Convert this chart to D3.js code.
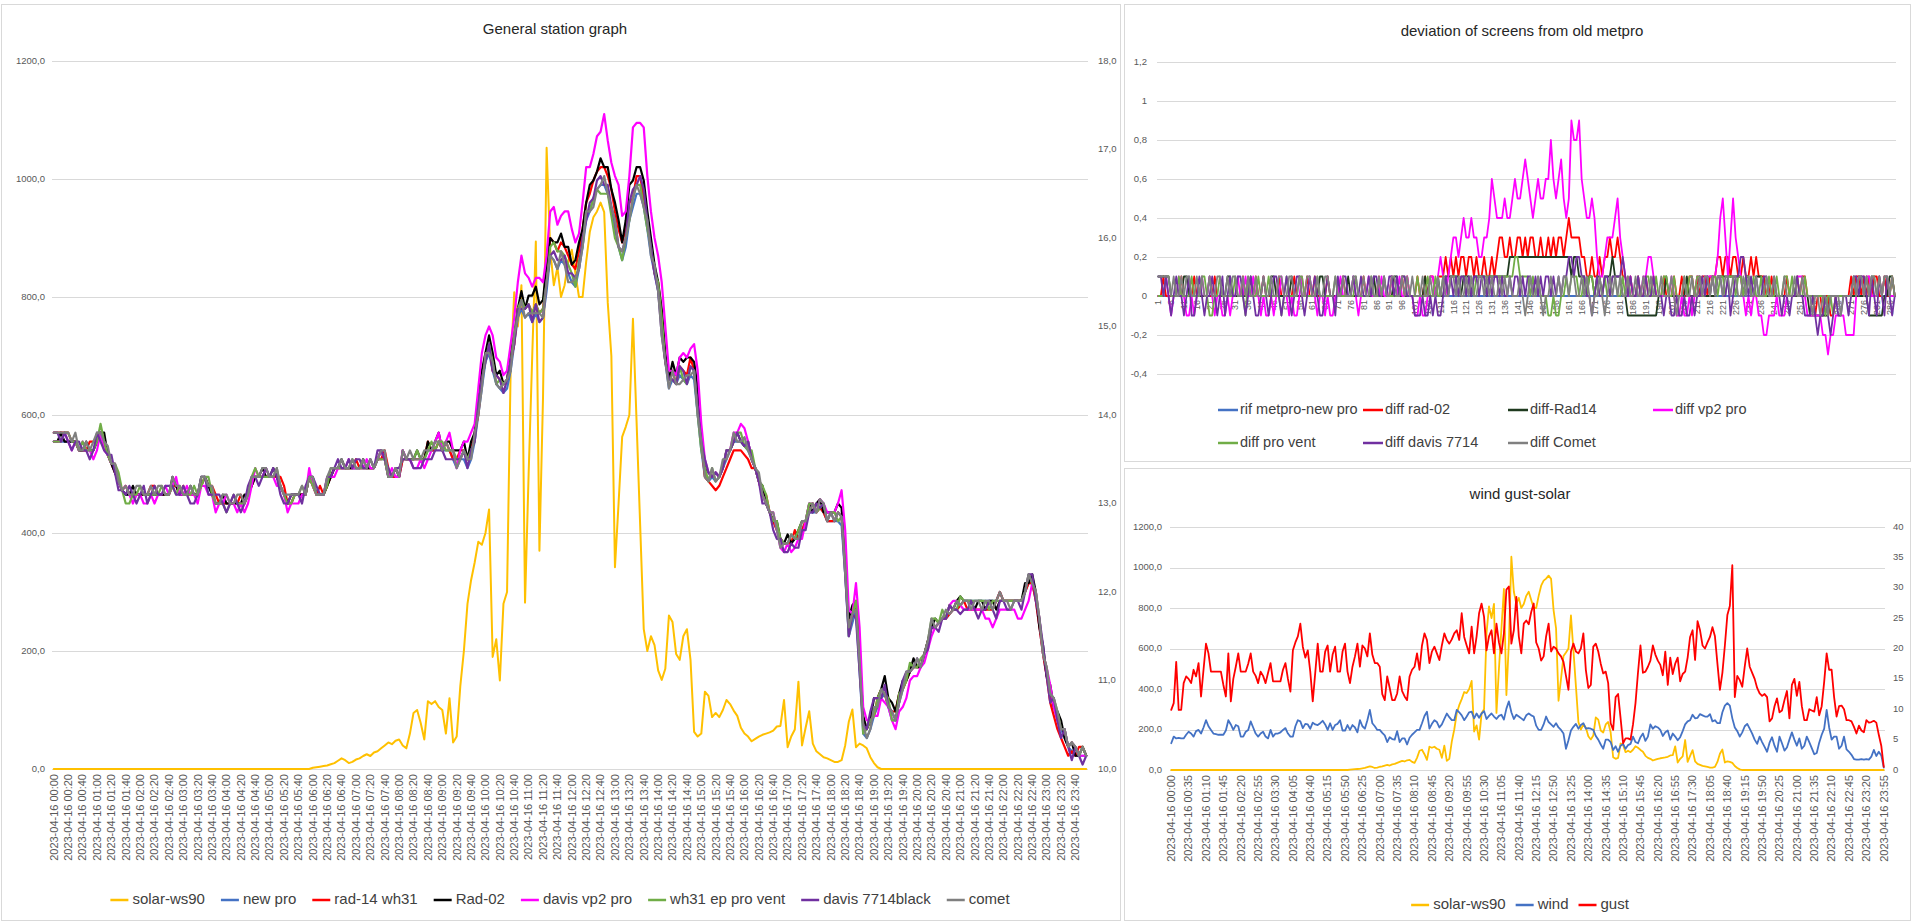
<!DOCTYPE html>
<html><head><meta charset="utf-8">
<script src="https://cdn.jsdelivr.net/npm/d3@7"></script>
<style>
html,body{margin:0;padding:0;background:#fff;}
svg{display:block;font-family:"Liberation Sans",Arial,sans-serif;}
</style></head><body>
<svg id="c" width="1912" height="923"></svg>
<script>
// ---------------- DATA (288 five-minute readings, 2023-04-16) ----------------
const tempReference = [
13.7,13.7,13.7,13.7,13.7,13.7,13.7,13.6,13.6,13.6,13.6,13.6,
13.7,13.8,13.7,13.55,13.45,13.35,13.25,13.15,13.1,13.1,13.1,13.1,
13.1,13.1,13.1,13.1,13.1,13.1,13.1,13.1,13.1,13.2,13.2,13.1,
13.1,13.1,13.1,13.1,13.1,13.2,13.3,13.2,13.1,13.0,13.0,13.0,
13.0,13.0,13.0,13.0,13.0,13.0,13.1,13.2,13.3,13.3,13.3,13.3,
13.3,13.3,13.3,13.2,13.1,13.0,13.0,13.1,13.1,13.1,13.1,13.3,
13.2,13.1,13.1,13.1,13.2,13.3,13.4,13.4,13.4,13.4,13.4,13.4,
13.4,13.4,13.4,13.4,13.4,13.4,13.5,13.5,13.5,13.3,13.3,13.3,
13.3,13.5,13.5,13.5,13.5,13.5,13.5,13.5,13.6,13.6,13.6,13.7,
13.6,13.6,13.6,13.5,13.4,13.5,13.5,13.4,13.5,13.7,14.0,14.3,
14.6,14.7,14.5,14.35,14.3,14.25,14.3,14.5,14.8,15.1,15.2,15.1,
15.15,15.05,15.15,15.05,15.1,15.4,15.8,15.75,15.65,15.75,15.7,15.6,
15.5,15.45,15.65,15.9,16.2,16.3,16.45,16.55,16.6,16.6,16.5,16.35,
16.1,15.9,15.75,15.9,16.2,16.35,16.5,16.5,16.35,16.1,15.8,15.6,
15.4,15.0,14.6,14.3,14.4,14.35,14.45,14.4,14.35,14.45,14.4,14.0,
13.6,13.3,13.25,13.3,13.25,13.3,13.4,13.5,13.6,13.7,13.7,13.7,
13.65,13.6,13.5,13.4,13.25,13.1,13.0,12.9,12.8,12.7,12.6,12.55,
12.55,12.55,12.6,12.6,12.7,12.8,12.9,12.9,12.9,12.95,12.9,12.8,
12.8,12.8,12.8,12.75,12.2,11.5,11.65,11.8,11.1,10.4,10.35,10.45,
10.6,10.7,10.8,10.85,10.7,10.55,10.55,10.75,10.9,11.0,11.1,11.15,
11.15,11.15,11.3,11.45,11.6,11.6,11.65,11.7,11.7,11.75,11.8,11.8,
11.85,11.9,11.9,11.9,11.9,11.9,11.9,11.9,11.9,11.9,11.9,12.0,
11.9,11.9,11.9,11.9,11.9,11.9,12.0,12.1,12.1,11.9,11.6,11.3,
11.05,10.85,10.7,10.55,10.45,10.35,10.25,10.2,10.15,10.15,10.15,10.15];

const solarWs90 = [
0,0,0,0,0,0,0,0,0,0,0,0, 0,0,0,0,0,0,0,0,0,0,0,0,
0,0,0,0,0,0,0,0,0,0,0,0, 0,0,0,0,0,0,0,0,0,0,0,0,
0,0,0,0,0,0,0,0,0,0,0,0, 0,0,0,0,0,0,0,0,0,0,0,0,
2,3,4,5,6,8,10,14,18,15,10,12,
16,18,22,25,22,28,30,35,40,45,42,48,
50,40,35,60,95,100,78,50,115,110,115,105,
100,60,120,45,55,140,200,280,320,350,385,380,
400,440,190,220,150,280,300,677,808,750,820,282,
500,700,894,370,630,1053,880,820,850,800,820,860,
880,840,800,800,860,910,935,945,960,944,790,700,
342,450,563,580,600,763,590,414,237,200,225,210,
167,151,170,260,249,195,185,225,237,185,63,55,
60,131,124,88,95,88,100,117,110,99,90,70,
60,55,47,51,55,58,60,62,65,72,73,117,
37,55,67,148,40,70,98,43,30,25,20,18,
15,12,12,15,40,80,101,37,43,40,35,20,
10,3,0,0,0,0,0,0,0,0,0,0,
0,0,0,0,0,0,0,0,0,0,0,0, 0,0,0,0,0,0,0,0,0,0,0,0,
0,0,0,0,0,0,0,0,0,0,0,0, 0,0,0,0,0,0,0,0,0,0,0,0];

const windSpeed = [
4.4,5.5,5.2,5.3,5.2,5.2,5.8,6.3,6.0,5.5,6.4,6.6,
6.0,7.0,8.2,7.2,6.6,6.0,5.9,5.8,5.8,5.8,6.5,8.2,
7.5,6.6,7.4,7.2,5.5,5.5,6.3,6.6,8.0,7.0,6.0,5.5,
6.0,6.3,5.5,5.2,6.6,5.5,6.0,6.0,6.2,6.6,6.9,6.0,
5.5,5.5,7.2,8.2,8.0,6.9,7.6,7.5,6.8,7.8,7.5,7.4,
7.7,8.1,7.5,6.6,7.7,6.6,7.4,7.6,8.2,6.5,6.5,7.4,
6.6,7.4,7.0,6.2,8.2,7.2,6.8,8.2,9.9,7.7,7.2,6.6,
6.6,6.1,5.7,4.6,5.4,5.1,5.0,6.4,4.6,5.2,5.2,4.2,
5.3,5.8,6.2,6.6,6.6,7.7,8.9,9.6,6.8,7.6,8.2,7.9,
7.0,7.5,8.4,9.3,8.7,8.2,8.2,9.9,9.5,9.0,8.2,8.8,
9.5,9.6,8.5,9.3,8.6,9.3,9.7,8.4,8.9,9.3,8.8,8.4,
8.9,9.1,8.3,10.1,11.3,9.5,8.4,9.1,8.8,8.5,8.2,9.0,
9.3,9.0,8.8,7.3,6.6,6.6,7.5,8.8,7.9,7.5,7.1,7.7,
7.0,6.6,6.0,3.5,4.9,6.5,7.1,7.6,6.8,7.4,7.7,6.8,
6.9,6.8,6.6,5.6,5.0,4.2,3.5,5.0,5.0,4.6,3.3,3.9,
3.0,4.0,4.3,3.5,4.1,4.3,5.5,4.6,4.4,5.4,6.0,4.8,
5.5,7.5,6.8,7.2,7.0,6.6,5.6,6.2,6.5,5.0,6.0,5.5,
4.9,5.4,6.4,7.5,8.0,8.2,9.1,8.5,8.6,9.2,9.0,8.8,
8.8,9.2,8.0,8.2,7.7,7.7,9.5,10.6,11.0,10.6,8.5,7.0,
6.4,5.5,6.2,7.2,7.6,6.8,6.0,5.0,4.3,5.5,4.6,3.8,
3.0,4.5,5.4,4.0,3.0,5.5,4.4,3.2,3.7,5.0,6.2,5.0,
4.0,5.2,3.5,4.0,5.5,4.6,3.6,2.6,2.8,4.5,5.8,6.8,
9.9,7.0,5.0,5.5,5.5,3.5,4.0,5.5,3.4,3.0,2.5,1.8,
1.7,1.7,1.8,1.7,1.8,1.7,2.2,3.3,2.3,3.0,2.4,0.4];

const windGust = [
9.9,11.0,17.8,9.9,9.9,14.3,15.4,15.0,14.3,16.5,15.4,17.6,
12.1,16.5,20.8,19.2,16.2,16.2,16.2,16.2,16.2,14.0,12.1,19.2,
11.3,15.0,17.0,19.2,16.2,16.2,16.2,17.5,19.2,16.2,15.5,14.3,
16.2,15.5,14.3,16.0,17.6,14.6,14.6,14.6,14.6,16.5,17.6,15.0,
12.9,19.7,21.0,22.0,24.1,20.3,18.5,19.7,16.2,11.3,16.0,20.8,
16.2,16.2,19.5,20.5,16.2,19.0,20.3,16.2,16.2,19.5,20.8,16.2,
14.3,17.0,18.7,20.8,17.0,20.5,20.0,18.7,22.5,19.0,17.6,17.6,
17.0,12.5,11.5,15.4,13.5,11.5,11.5,12.6,15.4,13.0,12.1,11.5,
15.4,16.5,17.0,19.2,16.5,20.5,22.5,21.4,17.6,19.5,20.3,19.2,
18.1,20.5,22.5,21.4,20.8,21.5,22.5,23.0,21.4,25.8,21.9,20.5,
19.2,23.6,19.2,22.0,25.8,27.4,25.2,19.7,22.0,23.0,19.2,24.1,
21.0,19.2,22.5,29.7,30.2,20.8,23.0,28.5,22.0,19.2,24.1,24.6,
24.0,26.0,27.4,21.0,20.0,18.0,18.7,22.0,24.1,19.5,20.3,20.0,
19.2,18.7,17.8,15.5,13.2,19.5,20.8,19.5,19.2,20.0,22.5,16.5,
13.5,14.0,20.3,20.8,19.5,17.5,15.9,16.2,14.3,7.7,6.6,12.0,
12.5,8.5,4.4,5.2,5.2,5.0,7.5,11.0,16.0,20.5,16.0,16.2,
17.0,18.0,20.5,19.0,18.0,17.3,15.6,19.5,14.0,18.5,15.8,17.5,
18.5,14.6,15.8,16.2,18.5,21.9,23.0,18.1,24.5,23.0,20.5,20.0,
21.0,21.9,23.5,22.0,17.5,13.2,16.0,20.5,25.5,27.0,33.7,12.0,
15.5,14.8,13.7,17.0,20.0,17.0,16.0,15.0,13.5,12.6,12.2,12.5,
12.0,8.0,8.5,10.5,11.8,9.5,9.8,11.5,13.0,8.5,14.0,15.0,
12.2,14.5,10.5,8.2,8.2,10.0,9.8,9.6,12.0,9.0,10.5,14.5,
19.2,16.5,16.5,12.0,8.8,10.5,10.6,10.0,8.2,8.2,8.0,7.1,
6.0,7.3,6.5,6.2,8.2,7.8,7.9,8.1,7.8,5.8,4.0,0.5];

// deviations from old metpro, in tenths of a degree
const diffNewPro = [
0,0,0,0,0,0,0,0,0,0,0,0, 0,0,0,0,0,0,0,0,0,0,0,0, 0,0,0,0,0,0,0,0,0,0,0,0,
0,0,0,0,0,0,0,0,0,0,0,0, 0,0,0,0,0,0,0,0,0,0,0,0, 0,0,0,0,0,0,0,0,0,0,0,0,
0,0,0,0,0,0,0,0,0,0,0,0, 0,0,0,0,0,0,0,0,0,0,0,0, 0,0,0,0,0,0,0,0,0,0,0,0,
0,0,0,0,0,0,0,0,0,0,0,0, 0,0,0,0,0,0,0,0,0,0,0,0, 0,0,0,0,0,0,0,0,0,0,0,0,
0,0,0,0,0,0,0,0,0,0,0,0, 0,0,0,0,0,0,0,0,0,0,0,0, 0,0,0,0,0,0,0,0,0,0,0,0,
0,0,0,0,0,0,0,0,0,0,0,0, 0,0,0,0,0,0,0,0,0,0,0,0, 0,0,0,0,0,0,0,0,0,0,0,0,
0,0,0,0,0,0,0,0,0,0,0,0, 0,0,0,0,0,0,0,0,0,0,0,0, 0,0,0,0,0,0,0,0,0,0,0,0,
0,0,0,0,0,0,0,0,0,0,0,0, 0,0,0,0,0,0,0,0,0,0,0,0, 0,0,0,0,0,0,0,0,0,0,0,0];

const diffRad02 = [
0,0,1,0,0,0,0,0,0,1, 0,0,0,0,1,0,0,0,0,0, 0,0,1,0,0,0,0,0,0,0, 0,0,0,1,0,0,0,0,1,0,
0,1,0,0,0,0,0,1,0,0, 0,0,0,1,0,0,0,0,1,0, 0,1,0,0,0,0,1,0,0,0, 0,0,1,0,0,0,0,0,0,0,
1,0,0,0,0,0,1,0,0,0, 0,1,0,0,0,1,0,1,0,
0,0,1,0,0,1,0,1,1,0,1,1,1,2,1,2,1,
2,1,2,2,1,2,2,1,2,1, 1,2,1,1,2,1,2,3,3,2, 2,3,2,2,3,3,2,3,2,3, 3,2,2,3,2,2,3,2,3,2,
3,3,2,3,4,3,3,3,3,2, 2,1,1,2,1,1,2,1,2,2, 3,2,2,3,2,1,1,0,1,0,
0,1,0,0,1,0,0,1,0,0, 0,1,0,0,0,1,0,0,1,0, 0,1,1,0,1,0,1,1,0,1,
1,1,2,2,1,2,2,1,2,2,1,1,2,1,1,2,1,
2,1,1,1,0,0,1,0,0,0, 0,0,1,0,0,0,1,0,1,1, 0,0,0,-1,0,0,-1,0,0,-1, -1,0,0,0,0,0,0,1,0,1,
1,0,1,0,1,0,1,1,0,0, 1,0,0,1,0];

const diffRad14 = [
1,1,1,1,1,0,0,0,0,0, 1,1,0,0,0,0,0,0,0,0, 1,0,0,0,0,0,0,1,1,0, 0,0,0,0,0,0,1,0,0,0,
0,0,0,0,1,1,0,0,0,0, 0,0,1,0,0,0,0,0,0,0, 0,0,0,1,1,0,0,0,0,0, 0,0,0,0,1,0,0,0,0,0,
0,0,0,0,1,0,0,0,0,0, 0,0,1,1,0,0,0,0,0,
0,0,0,0,0,1,0,0,0,0,1,0,0,1,1,1,1,
1,1,0,1,1,1,0,1,1,1, 1,1,0,1,1,1,1,1,1,1, 1,
2,2,2,2,2,2,2,2,2,2, 2,2,2,2,2,2,2,2,2,2, 2,2,2,2,
1,2,2,1,1,1,0,1,1,0, 1,1,0,1,1,1,2,1,1,1, 0,0,-1,-1,-1,
-1,-1,-1,-1,-1,-1,-1,-1,-1, 0,0,0,1,0,0,0,0,0,0,0,1,0,0,0,0,1,0,0,0,0,
0,0,1,1,1,1,1,1,1,1,1,1,0,1,1,0,0,
1,1,1,0,0,0,0,0,0,0, 0,0,0,0,0,0,0,0,0,0, 0,-1,-1,-1,-1,-1,-1,-1,-1,0, 0,0,0,0,0,0,0,0,0,0,
0,0,0,0,-1,-1,-1,-1,-1,-1, 0,0,1,1,0];

const diffVp2Pro = [
0,0,0,1,0,-1,0,0,1,0, 0,-1,-1,0,-1,0,0,1,0,0, 1,0,-1,0,0,-1,-1,0,-1,0, 0,1,0,0,1,0,0,1,0,0,
-1,0,-1,-1,0,-1,0,0,1,0, 0,-1,0,-1,-1,0,1,0,0,1, 0,0,-1,0,0,-1,0,-1,-1,0, 0,1,0,0,0,0,1,0,-1,0,
0,0,1,0,0,0,0,1,0,0, 0,1,0,0,1,0,0,1,0,
0,-1,-1,0,-1,-1,0,1,1,0,1,2,1,0,1,2,3,
3,2,3,4,3,3,4,3,3,2, 2,3,3,4,6,5,4,4,4,5, 4,4,5,6,5,5,6,7,6,5, 4,5,6,5,5,6,6,8,6,5,
6,7,5,4,5,9,8,8,9,6, 5,4,4,5,4,2,1,1,2,3, 3,3,4,5,3,2,1,0,1,0,
0,1,0,1,1,2,2,1,0,0, 0,0,0,0,1,0,-1,-1,0,-1, -1,0,-1,0,1,1,0,1,1,1,
1,1,2,4,5,3,1,3,5,3,2,1,0,-1,0,-1,0,
0,-1,-1,-2,-2,-1,-1,-1,0,-1, -1,-1,0,0,0,0,1,1,1,0, -1,-1,-1,-1,-1,-1,-2,-2,-3,-2, -2,-1,-1,-1,-1,-2,-2,-2,-2,0,
1,1,0,1,1,0,0,0,1,0, 1,1,0,0,0];

const diffProVent = [
0,0,0,1,1,0,0,0,1,0, 0,0,0,1,0,0,0,1,1,0, -1,-1,0,0,1,0,0,0,0,0, 1,0,0,0,-1,1,0,0,0,1,
0,0,0,1,0,0,0,0,-1,0, 1,0,0,0,0,1,1,0,0,0, 0,0,1,0,0,0,0,0,0,1, 0,0,0,0,0,0,0,1,0,0,
0,0,0,1,0,0,0,0,1,0, 0,0,0,0,0,1,1,0,0,
0,0,1,0,0,0,1,0,0,1,0,0,1,1,0,1,1,
1,0,1,1,0,1,1,0,1,1, 1,1,1,1,1,1,1,1,1,1, 1,1,1,2,2,1,1,1,1,0, 1,0,1,0,0,0,-1,-1,0,-1,
-1,0,0,1,0,1,1,1,0,0, 1,0,1,1,0,1,0,0,1,0, 0,1,1,0,0,1,0,1,0,0,
0,1,0,0,1,1,0,0,1,0, 0,1,1,0,0,1,0,0,0,1, 0,1,1,0,1,1,0,0,1,0, 1,1,0,1,1,0,1,1,1,0,
1,1,0,1,1,0,1,0,0,1, 0,0,1,0,0,1,0,0,1,1, 0,1,0,1,0,0,1,0,0,0, 0,0,0,0,-1,0,0,-1,0,0,
0,0,0,0,0,1,0,1,1,0, 1,0,1,1,0,1,0,1,1,0,1,0];

const diffDavis7714 = [
1,1,0,1,0,-1,0,1,0,0, -1,0,1,-1,-1,0,1,0,-1,0, 0,1,0,-1,0,1,-1,0,1,0, 0,1,1,0,-1,0,1,0,-1,-1,
0,1,0,-1,0,1,1,0,-1,0, 1,0,-1,0,1,1,0,-1,0,1, 0,1,0,-1,-1,0,1,0,0,-1, 1,0,1,1,0,0,1,0,0,1,
0,0,1,0,1,1,0,0,1,0, 1,1,0,1,0,1,1,0,0,
0,-1,-1,-1,0,-1,-1,0,-1,0,-1,-1,0,1,0,1,0,
1,0,1,1,0,1,0,1,1,0, 1,1,0,1,0,1,1,0,1,0, 0,1,0,1,1,0,1,0,1,1, 0,1,0,1,0,1,1,0,1,0,
1,0,1,1,2,2,1,2,2,1, 1,0,0,-1,0,1,0,0,1,1, 0,1,1,1,1,2,1,0,1,0,
0,1,0,0,1,0,0,1,0,0, 0,-1,0,0,-1,-1,0,-1,-1,0, -1,-1,0,-1,0,0,1,0,1,0,
1,0,1,1,0,0,1,-1,0,1,1,2,2,1,0,1,0,
1,0,0,1,1,0,0,1,0,0, -1,0,0,-1,0,0,1,0,0,-1, -1,-1,0,-1,-2,-1,-1,0,-1,-2, -1,0,-1,-1,0,0,-1,0,1,1,
0,1,1,0,-1,1,0,-1,1,0, -1,1,0,-1,0];

const diffComet = [
1,1,1,1,1,0,1,0,0,1, 0,1,1,0,0,1,0,1,0,0, 1,0,0,1,1,0,0,1,0,1, 1,0,0,1,0,1,0,0,1,0,
0,1,0,0,1,0,0,1,1,0, 0,1,1,0,0,1,0,0,1,1, 0,0,1,0,0,1,1,0,0,1, 0,0,1,0,0,0,1,1,0,0,
1,0,0,1,0,0,1,0,1,0, 0,1,1,0,0,1,0,1,0,
1,0,0,0,1,0,0,1,0,0, 1,0,1,0,0,1,1,0,1,0, 0,1,0,1,0,0,1,1,0,1, 0,1,0,0,1,0,1,0,1,0,
0,0,1,0,-1,0,1,0,0,1, 0,-1,0,0,1,0,0,1,0,1, 1,0,1,1,0,0,1,0,1,0, -1,0,0,1,0,-1,0,1,0,1,
0,1,0,0,1,0,0,1,0,0, 1,0,0,1,0,0,0,1,0,0, 0,1,0,-1,0,0,1,0,0,1, 0,0,1,0,1,1,0,1,0,1,
1,0,1,1,0,1,1,0,0,1, 0,1,0,0,1,0,0,0,1,0, 0,1,0,0,0,1,0,0,0,1, 0,0,1,0,0,0,-1,0,0,-1,
0,0,-1,0,0,0,0,-1,0,0, 0,0,1,0,1,1,0,1,0,1, 1,0,1,0,1,1,0,1,0];

const mainNames  = ["solar-ws90","new pro","rad-14 wh31","Rad-02","davis vp2 pro","wh31 ep pro vent","davis 7714black","comet"];
const mainColors = ["#FFC000","#4472C4","#FF0000","#000000","#FF00FF","#70AD47","#7030A0","#7F7F7F"];
const devNames   = ["rif metpro-new pro","diff rad-02","diff-Rad14","diff vp2 pro","diff pro vent","diff davis 7714","diff Comet"];
const devColors  = ["#4472C4","#FF0000","#1F3A1F","#FF00FF","#70AD47","#7030A0","#808080"];
const windNames  = ["solar-ws90","wind","gust"];
const windColors = ["#FFC000","#4472C4","#FF0000"];
const leftTicks = [0,200,400,600,800,1000,1200];
const tempTicks = [10,11,12,13,14,15,16,17,18];
const devTicks  = [-0.4,-0.2,0,0.2,0.4,0.6,0.8,1.0,1.2];
const windTicks = [0,5,10,15,20,25,30,35,40];

// ---------------- BUILD ----------------
const N = tempReference.length;
const times = d3.range(N).map(i => "2023-04-16 " + String(Math.floor(i/12)).padStart(2,"0") + ":" + String((i%12)*5).padStart(2,"0"));
const devDiffs = [diffNewPro, diffRad02, diffRad14, diffVp2Pro, diffProVent, diffDavis7714, diffComet];
// main chart temperatures = reference + deviation; order matches mainNames[1..]
const tempSeries = [diffNewPro, diffRad14, diffRad02, diffVp2Pro, diffProVent, diffDavis7714, diffComet]
  .map(d => tempReference.map((v,i) => v + d[i]/10));

const svg = d3.select("#c");
const GRID = "#d9d9d9", LAB = "#595959", BORDER = "#d9d9d9";
const comma = (f) => (v) => d3.format(f)(v).replace(".", ",");

// length check
const allArr = {tempReference, solarWs90, windSpeed, windGust, diffNewPro, diffRad02, diffRad14, diffVp2Pro, diffProVent, diffDavis7714, diffComet};
let warn = [];
for (const k in allArr) if (allArr[k].length !== 288) warn.push(k + "=" + allArr[k].length);
if (warn.length) svg.append("text").attr("x",300).attr("y",20).attr("fill","red").attr("font-size",16).text(warn.join(" "));

// panel borders
svg.append("rect").attr("x",1.5).attr("y",4.5).attr("width",1119).attr("height",916).attr("fill","none").attr("stroke",BORDER);
svg.append("rect").attr("x",1124.5).attr("y",4.5).attr("width",786).attr("height",457).attr("fill","none").attr("stroke",BORDER);
svg.append("rect").attr("x",1124.5).attr("y",468.5).attr("width",786).attr("height",452).attr("fill","none").attr("stroke",BORDER);

function title(x, y, t) {
  svg.append("text").attr("x",x).attr("y",y).attr("text-anchor","middle").attr("dominant-baseline","middle")
    .attr("font-size",15).attr("fill","#262626").text(t);
}
function hGrid(g, ticks, y, x0, x1) {
  g.selectAll(null).data(ticks).join("line").attr("x1",x0).attr("x2",x1)
    .attr("y1",d=>Math.round(y(d))+0.5).attr("y2",d=>Math.round(y(d))+0.5).attr("stroke",GRID).attr("stroke-width",1);
}
function yLabels(g, ticks, y, x, anchor, fmt) {
  g.selectAll(null).data(ticks).join("text").attr("x",x).attr("y",d=>y(d)).attr("text-anchor",anchor)
    .attr("dominant-baseline","middle").attr("font-size",9.5).attr("fill",LAB).text(fmt);
}
function xLabels(g, idx, x, y0, textFn, fs) {
  g.selectAll(null).data(idx).join("text")
    .attr("transform", i => `translate(${x(i)+fs*0.35},${y0}) rotate(-90)`)
    .attr("text-anchor","end").attr("font-size",fs).attr("fill",LAB).text(textFn);
}
function drawLine(g, values, x, y, color, w) {
  g.append("path").datum(values).attr("fill","none").attr("stroke",color).attr("stroke-width",w)
    .attr("stroke-linejoin","round").attr("stroke-linecap","round")
    .attr("d", d3.line().x((d,i)=>x(i)).y(d=>y(d)));
}
function legend(items, cx, y, fs, gap) {
  const g = svg.append("g");
  let xpos = 0;
  items.forEach(it => {
    const gi = g.append("g").attr("transform",`translate(${xpos},0)`);
    gi.append("line").attr("x1",0).attr("x2",18).attr("y1",y).attr("y2",y).attr("stroke",it.color).attr("stroke-width",2.5);
    const t = gi.append("text").attr("x",22).attr("y",y).attr("dominant-baseline","middle").attr("font-size",fs).attr("fill","#404040").text(it.name);
    xpos += 22 + t.node().getComputedTextLength() + gap;
  });
  const total = xpos - gap;
  g.attr("transform",`translate(${cx - total/2},0)`);
}

// ---------- MAIN CHART ----------
{
  const L = 52, R = 1088, T = 61, B = 769;
  const g = svg.append("g");
  const x = d3.scalePoint().domain(d3.range(N)).range([L,R]).padding(0.5);
  const yL = d3.scaleLinear().domain([0,1200]).range([B,T]);
  const yR = d3.scaleLinear().domain([10,18]).range([B,T]);
  title(555, 30, "General station graph");
  hGrid(g, leftTicks, yL, L, R);
  yLabels(g, leftTicks, yL, L-7, "end", comma(".1f"));
  yLabels(g, tempTicks, yR, R+10, "start", comma(".1f"));
  xLabels(g, d3.range(N).filter(i=>i%4===0), x, B+5, i=>times[i], 11);
  drawLine(g, solarWs90, x, yL, mainColors[0], 2);
  tempSeries.forEach((s,k) => drawLine(g, s, x, yR, mainColors[k+1], 2.2));
  legend(mainNames.map((n,k)=>({name:n,color:mainColors[k]})), 560, 900, 15, 16);
}

// ---------- DEVIATION CHART ----------
{
  const L = 1157, R = 1896, T = 62, B = 374;
  const g = svg.append("g");
  const x = d3.scalePoint().domain(d3.range(N)).range([L,R]).padding(0.5);
  const y = d3.scaleLinear().domain([-0.4,1.2]).range([B,T]);
  title(1522, 32, "deviation of screens from old metpro");
  hGrid(g, devTicks, y, L, R);
  yLabels(g, devTicks, y, L-10, "end", d => String(Math.round(d*10)/10).replace(".", ","));
  xLabels(g, d3.range(N).filter(i=>i%5===0), x, y(0)+4, i=>String(i+1), 9);
  devDiffs.forEach((d,k) => drawLine(g, d.map(v=>v/10), x, y, devColors[k], 1.8));
  // legend grid 4 columns
  const lg = svg.append("g");
  devNames.forEach((n,k) => {
    const cx = 1218 + (k%4)*145, cy = k<4 ? 410 : 443;
    lg.append("line").attr("x1",cx).attr("x2",cx+20).attr("y1",cy).attr("y2",cy).attr("stroke",devColors[k]).attr("stroke-width",2.5);
    lg.append("text").attr("x",cx+22).attr("y",cy).attr("dominant-baseline","middle").attr("font-size",14.5).attr("fill","#404040").text(n);
  });
}

// ---------- WIND CHART ----------
{
  const L = 1170, R = 1885, T = 527, B = 770;
  const g = svg.append("g");
  const x = d3.scalePoint().domain(d3.range(N)).range([L,R]).padding(0.5);
  const yL = d3.scaleLinear().domain([0,1200]).range([B,T]);
  const yR = d3.scaleLinear().domain([0,40]).range([B,T]);
  title(1520, 495, "wind gust-solar");
  hGrid(g, leftTicks, yL, L, R);
  yLabels(g, leftTicks, yL, L-8, "end", comma(".1f"));
  yLabels(g, windTicks, yR, R+8, "start", d3.format("d"));
  xLabels(g, d3.range(N).filter(i=>i%7===0), x, B+5, i=>times[i], 11);
  drawLine(g, solarWs90, x, yL, windColors[0], 1.8);
  drawLine(g, windSpeed, x, yR, windColors[1], 1.8);
  drawLine(g, windGust, x, yR, windColors[2], 1.8);
  legend(windNames.map((n,k)=>({name:n,color:windColors[k]})), 1520, 905, 15, 10);
}
</script>
</body></html>
